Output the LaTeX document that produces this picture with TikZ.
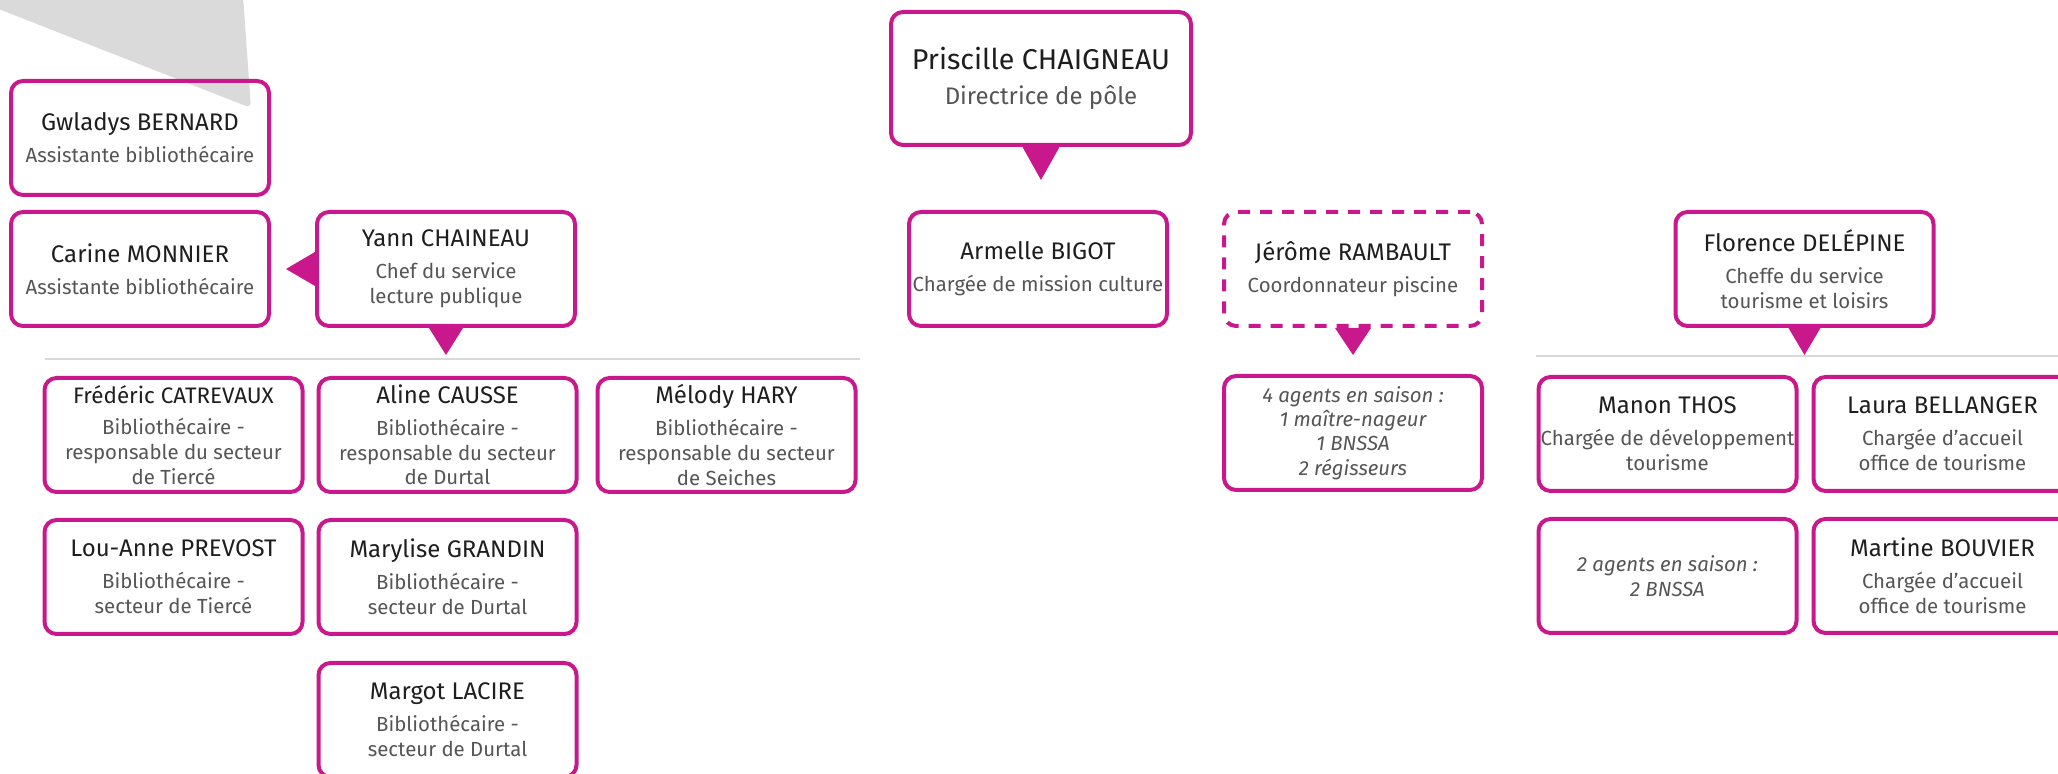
\documentclass[tikz,border=0pt]{standalone}
\usepackage{fontspec}
\setmainfont{Fira Sans}
\newfontfamily\lightfont{Fira Sans}
\definecolor{rose}{RGB}{200,24,140}
\definecolor{namegray}{RGB}{30,30,30}
\definecolor{subgray}{RGB}{85,85,85}
\definecolor{linegray}{RGB}{217,217,217}
\definecolor{bggray}{RGB}{218,218,218}
\newcommand{\staffname}[1]{{\color{namegray}\rmfamily\fontsize{12}{13}\selectfont #1}}

\tikzset{
  card/.style={draw=rose, line width=2pt, rounded corners=6pt,
    minimum width=129pt, minimum height=57pt, inner sep=0pt, align=center,
    text=subgray, font=\lightfont\fontsize{10.2}{12.4}\selectfont},
  bigcard/.style={card, minimum width=150pt, minimum height=66.5pt},
  tempcard/.style={card, dash pattern=on 6pt off 5pt},
  pointer/.style={fill=rose},
  sepline/.style={draw=linegray, line width=1pt},
}

\begin{document}
\begin{tikzpicture}[x=0.5pt,y=-0.5pt]
    \useasboundingbox (0,0) rectangle (2058,774);

    % grey corner shape
    \fill[bggray, rounded corners=3pt] (-60,-14) -- (-60,-60) -- (239,-60) -- (251,108) -- cycle;

    % library
    \node[card] (gwladys) at (140,138) {\staffname{Gwladys BERNARD}\\[3.5pt]Assistante bibliothécaire};
    \node[card] (carine) at (140,269) {\staffname{Carine MONNIER}\\[3.5pt]Assistante bibliothécaire};
    \node[card] (yann) at (446,269) {\staffname{Yann CHAINEAU}\\[3.5pt]Chef du service\\lecture publique};
    \fill[pointer] ([yshift=8.5pt]yann.west) -- ([yshift=-8.5pt]yann.west) -- ([xshift=-14.5pt]yann.west) -- cycle;
    \fill[pointer] ([xshift=-8.5pt]yann.south) -- ([xshift=8.5pt]yann.south) -- ([yshift=-13.5pt]yann.south) -- cycle;
    \draw[sepline] (45,359) -- (860,359);

    \node[card] (frederic) at (173.5,435) {{\color{namegray}\rmfamily\fontsize{11.2}{13}\selectfont Frédéric CATREVAUX}\\[3.5pt]Bibliothécaire -\\responsable du secteur\\de Tiercé};
    \node[card] (aline) at (447.5,435) {\staffname{Aline CAUSSE}\\[3.5pt]Bibliothécaire -\\responsable du secteur\\de Durtal};
    \node[card] (melody) at (726.5,435) {\staffname{Mélody HARY}\\[3.5pt]Bibliothécaire -\\responsable du secteur\\de Seiches};
    \node[card] (louanne) at (173.5,577) {\staffname{Lou-Anne PREVOST}\\[3.5pt]Bibliothécaire -\\secteur de Tiercé};
    \node[card] (marylise) at (447.5,577) {\staffname{Marylise GRANDIN}\\[3.5pt]Bibliothécaire -\\secteur de Durtal};
    \node[card] (margot) at (447.5,720) {\staffname{Margot LACIRE}\\[3.5pt]Bibliothécaire -\\secteur de Durtal};

    % head of the pole
    \node[bigcard] (priscille) at (1041,78.5) {{\color{namegray}\rmfamily\fontsize{14.3}{15}\selectfont Priscille CHAIGNEAU}\\[5pt]{\fontsize{12}{14}\selectfont Directrice de pôle}};
    \fill[pointer] ([xshift=-9.25pt]priscille.south) -- ([xshift=9.25pt]priscille.south) -- ([yshift=-16.5pt]priscille.south) -- cycle;

    \node[card] (armelle) at (1038,269) {\staffname{Armelle BIGOT}\\[3.5pt]Chargée de mission culture};
    \node[card, tempcard] (jerome) at (1353,269) {\staffname{Jérôme RAMBAULT}\\[3.5pt]Coordonnateur piscine};
    \fill[pointer] ([xshift=-9pt]jerome.south) -- ([xshift=9pt]jerome.south) -- ([yshift=-13.5pt]jerome.south) -- cycle;
    \node[card, font=\lightfont\itshape\fontsize{10.2}{12.2}\selectfont] (saison) at (1353,433) {4 agents en saison :\\1 maître-nageur\\1 BNSSA\\2 régisseurs};

    % tourism
    \node[card] (florence) at (1804.5,269) {\staffname{Florence DELÉPINE}\\[3.5pt]Cheffe du service\\tourisme et loisirs};
    \fill[pointer] ([xshift=-8pt]florence.south) -- ([xshift=8pt]florence.south) -- ([yshift=-13.5pt]florence.south) -- cycle;
    \draw[sepline] (1536,356) -- (2058,356);

    \node[card] (manon) at (1667.5,434) {\staffname{Manon THOS}\\[3.5pt]Chargée de développement\\tourisme};
    \node[card] (laura) at (1942.5,434) {\staffname{Laura BELLANGER}\\[3.5pt]Chargée d’accueil\\office de tourisme};
    \node[card, font=\lightfont\itshape\fontsize{10.2}{12.2}\selectfont] (saisontour) at (1667.5,576) {2 agents en saison :\\2 BNSSA};
    \node[card] (martine) at (1942.5,576) {\staffname{Martine BOUVIER}\\[3.5pt]Chargée d’accueil\\office de tourisme};

\end{tikzpicture}
\end{document}
